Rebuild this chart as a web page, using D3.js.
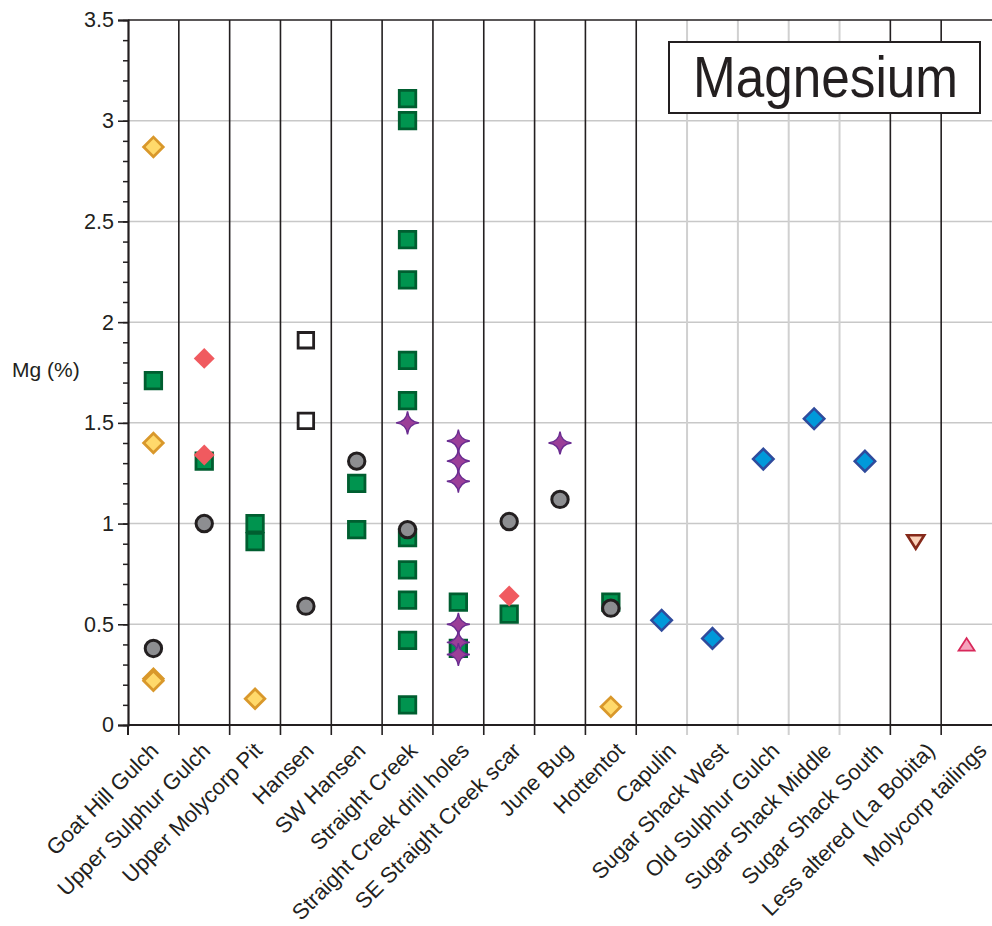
<!DOCTYPE html>
<html>
<head>
<meta charset="utf-8">
<script src="https://cdn.jsdelivr.net/npm/d3@7"></script>
<style>
  body { margin: 0; background: #fff; }
  svg { display: block; }
  text { font-family: "Liberation Sans", Arial, Helvetica, sans-serif; fill: #231f20; }
</style>
</head>
<body>
<svg id="chart" width="992" height="926"></svg>
<script>
// Sampling sites along the x axis
const sites = [
  "Goat Hill Gulch", "Upper Sulphur Gulch", "Upper Molycorp Pit", "Hansen",
  "SW Hansen", "Straight Creek", "Straight Creek drill holes", "SE Straight Creek scar",
  "June Bug", "Hottentot", "Capulin", "Sugar Shack West", "Old Sulphur Gulch",
  "Sugar Shack Middle", "Sugar Shack South", "Less altered (La Bobita)", "Molycorp tailings"
];
// Sites sharing a group are separated by a light divider instead of a dark one
const siteGroup = [
  "Goat Hill Gulch", "Upper Sulphur Gulch", "Upper Molycorp Pit", "Hansen",
  "SW Hansen", "Straight Creek", "Straight Creek drill holes", "SE Straight Creek scar",
  "June Bug", "Hottentot", "Sugar Shack", "Sugar Shack", "Sugar Shack",
  "Sugar Shack", "Sugar Shack", "Less altered (La Bobita)", "Molycorp tailings"
];
const yMajorTicks = [0, 0.5, 1, 1.5, 2, 2.5, 3, 3.5];
const yTickLabels = ["0", "0.5", "1", "1.5", "2", "2.5", "3", "3.5"];

// Mg (%) per sample, grouped by marker series: [site, value]
const yellowDiamond = [
  ["Goat Hill Gulch", 2.87], ["Goat Hill Gulch", 1.40], ["Goat Hill Gulch", 0.23],
  ["Goat Hill Gulch", 0.22], ["Upper Molycorp Pit", 0.13], ["Hottentot", 0.09]
];
const greenSquare = [
  ["Goat Hill Gulch", 1.71], ["Upper Sulphur Gulch", 1.31],
  ["Upper Molycorp Pit", 1.00], ["Upper Molycorp Pit", 0.91],
  ["SW Hansen", 1.20], ["SW Hansen", 0.97],
  ["Straight Creek", 3.11], ["Straight Creek", 3.00], ["Straight Creek", 2.41],
  ["Straight Creek", 2.21], ["Straight Creek", 1.81], ["Straight Creek", 1.61],
  ["Straight Creek", 0.93], ["Straight Creek", 0.77], ["Straight Creek", 0.62],
  ["Straight Creek", 0.42], ["Straight Creek", 0.10],
  ["Straight Creek drill holes", 0.61], ["Straight Creek drill holes", 0.38],
  ["SE Straight Creek scar", 0.55], ["Hottentot", 0.61]
];
const openSquare = [["Hansen", 1.91], ["Hansen", 1.51]];
const redDiamond = [
  ["Upper Sulphur Gulch", 1.82], ["Upper Sulphur Gulch", 1.34], ["SE Straight Creek scar", 0.64]
];
const grayCircle = [
  ["Goat Hill Gulch", 0.38], ["Upper Sulphur Gulch", 1.00], ["Hansen", 0.59],
  ["SW Hansen", 1.31], ["Straight Creek", 0.97], ["SE Straight Creek scar", 1.01],
  ["June Bug", 1.12], ["Hottentot", 0.58]
];
const purpleStar = [
  ["Straight Creek", 1.50],
  ["Straight Creek drill holes", 1.41], ["Straight Creek drill holes", 1.31],
  ["Straight Creek drill holes", 1.21], ["Straight Creek drill holes", 0.50],
  ["Straight Creek drill holes", 0.41], ["Straight Creek drill holes", 0.35],
  ["June Bug", 1.40]
];
const blueDiamond = [
  ["Capulin", 0.52], ["Sugar Shack West", 0.43], ["Old Sulphur Gulch", 1.32],
  ["Sugar Shack Middle", 1.52], ["Sugar Shack South", 1.31]
];
const downTriangle = [["Less altered (La Bobita)", 0.92]];
const upTriangle = [["Molycorp tailings", 0.39]];

const svg = d3.select("#chart");
const W = 992;
const margin = { left: 128, top: 20, bottom: 725 };
const ink = "#231f20";
const gridGray = "#c8c8c8";

const x = d3.scaleBand().domain(sites).range([margin.left, W]).paddingInner(0).paddingOuter(0);
const y = d3.scaleLinear().domain([0, 3.5]).range([margin.bottom, margin.top]);
const labelX = d3.scalePoint().domain(sites).range([160, 988]);

// Horizontal grid
svg.append("g").selectAll("line")
  .data(yMajorTicks.filter(v => v > 0 && v < 3.5))
  .join("line")
  .attr("x1", margin.left).attr("x2", W)
  .attr("y1", d => y(d)).attr("y2", d => y(d))
  .attr("stroke", gridGray).attr("stroke-width", 1.5);

// Column dividers (extend below the axis as ticks)
const dividers = sites.slice(1).map((s, i) => ({
  x: x(s),
  dark: siteGroup[i] !== siteGroup[i + 1]
}));
svg.append("g").selectAll("line")
  .data(dividers.filter(d => !d.dark))
  .join("line")
  .attr("x1", d => d.x).attr("x2", d => d.x)
  .attr("y1", margin.top).attr("y2", margin.bottom + 10)
  .attr("stroke", "#d0d0d0").attr("stroke-width", 2);
svg.append("g").selectAll("line")
  .data(dividers.filter(d => d.dark))
  .join("line")
  .attr("x1", d => d.x).attr("x2", d => d.x)
  .attr("y1", margin.top).attr("y2", margin.bottom + 10)
  .attr("stroke", ink).attr("stroke-width", 1.6);

// Top frame line and bottom axis line
svg.append("line")
  .attr("x1", margin.left).attr("x2", W).attr("y1", margin.top).attr("y2", margin.top)
  .attr("stroke", ink).attr("stroke-width", 1.6);
svg.append("line")
  .attr("x1", margin.left).attr("x2", W).attr("y1", margin.bottom).attr("y2", margin.bottom)
  .attr("stroke", ink).attr("stroke-width", 2);
svg.append("line")
  .attr("x1", margin.left).attr("x2", margin.left).attr("y1", margin.bottom).attr("y2", margin.bottom + 10)
  .attr("stroke", ink).attr("stroke-width", 2);

// Y axis: minor ticks every 0.1, major ticks with labels every 0.5
const minorTicks = d3.range(0, 36).map(i => i / 10);
const yMinor = d3.axisLeft(y).tickValues(minorTicks).tickSize(5).tickFormat("");
svg.append("g").attr("transform", `translate(${margin.left},0)`).call(yMinor)
  .call(g => g.select(".domain").remove())
  .call(g => g.selectAll("line").attr("stroke", ink).attr("stroke-width", 1.5));

const yMajor = d3.axisLeft(y).tickValues(yMajorTicks).tickSize(10).tickPadding(4)
  .tickFormat((d, i) => yTickLabels[i]);
svg.append("g").attr("transform", `translate(${margin.left},0)`).call(yMajor)
  .call(g => g.select(".domain").attr("stroke", ink).attr("stroke-width", 2.2))
  .call(g => g.selectAll("line").attr("stroke", ink).attr("stroke-width", 1.6))
  .call(g => g.selectAll("text").attr("font-size", 21.5).attr("fill", ink)
    .attr("font-family", '"Liberation Sans", Arial, Helvetica, sans-serif'));

// Y axis title
svg.append("text").attr("x", 12).attr("y", 377).attr("font-size", 21).text("Mg (%)");

// Site labels, rotated
svg.append("g").selectAll("text")
  .data(sites)
  .join("text")
  .attr("transform", d => `translate(${labelX(d)},752) rotate(-45)`)
  .attr("text-anchor", "end")
  .attr("font-size", 22)
  .text(d => d);

// Marker shapes
const starType = {
  draw(ctx, size) {
    const r = Math.sqrt(size) / 2;
    const c = 0.1 * r;
    ctx.moveTo(0, -r);
    ctx.quadraticCurveTo(c, -c, r, 0);
    ctx.quadraticCurveTo(c, c, 0, r);
    ctx.quadraticCurveTo(-c, c, -r, 0);
    ctx.quadraticCurveTo(-c, -c, 0, -r);
    ctx.closePath();
  }
};
function trianglePath(hw, h, down) {
  const s = down ? -1 : 1;
  return `M${-hw},${s * h / 3}L${hw},${s * h / 3}L0,${-s * 2 * h / 3}Z`;
}

const series = [
  { data: yellowDiamond, path: d3.symbol(d3.symbolSquare, 13.8 * 13.8)(), rotate: 45,
    fill: "#ffd96b", stroke: "#d9982b", sw: 2.8 },
  { data: greenSquare, path: d3.symbol(d3.symbolSquare, 16.5 * 16.5)(), rotate: 0,
    fill: "#00944f", stroke: "#005e30", sw: 2.8 },
  { data: openSquare, path: d3.symbol(d3.symbolSquare, 15.5 * 15.5)(), rotate: 0,
    fill: "#ffffff", stroke: ink, sw: 2.8 },
  { data: redDiamond, path: d3.symbol(d3.symbolSquare, 14.8 * 14.8)(), rotate: 45,
    fill: "#f05a5f", stroke: "none", sw: 0 },
  { data: grayCircle, path: d3.symbol(d3.symbolCircle, Math.PI * 8.2 * 8.2)(), rotate: 0,
    fill: "#8d8e91", stroke: ink, sw: 3 },
  { data: purpleStar, path: d3.symbol(starType, 23 * 23)(), rotate: 0,
    fill: "#9b3f98", stroke: "#6a2c91", sw: 1.4 },
  { data: blueDiamond, path: d3.symbol(d3.symbolSquare, 14.5 * 14.5)(), rotate: 45,
    fill: "#0099da", stroke: "#2f4b9c", sw: 2.5 },
  { data: downTriangle, path: trianglePath(8.5, 13.5, true), rotate: 0,
    fill: "#fbd1b8", stroke: "#85291a", sw: 2.6 },
  { data: upTriangle, path: trianglePath(8, 12.5, false), rotate: 0,
    fill: "#f5a3bc", stroke: "#d8285a", sw: 1.8 }
];

const marks = svg.append("g");
series.forEach(s => {
  marks.append("g").selectAll("path")
    .data(s.data)
    .join("path")
    .attr("d", s.path)
    .attr("transform", d => `translate(${x(d[0]) + x.bandwidth() / 2},${y(d[1])}) rotate(${s.rotate})`)
    .attr("fill", s.fill)
    .attr("stroke", s.stroke)
    .attr("stroke-width", s.sw);
});

// Element title box
const title = svg.append("g");
title.append("rect")
  .attr("x", 669).attr("y", 42).attr("width", 311).attr("height", 71)
  .attr("fill", "#fff").attr("stroke", ink).attr("stroke-width", 2);
title.append("text")
  .attr("x", 693).attr("y", 97)
  .attr("font-size", 58)
  .attr("textLength", 265)
  .attr("lengthAdjust", "spacingAndGlyphs")
  .text("Magnesium");
</script>
</body>
</html>
